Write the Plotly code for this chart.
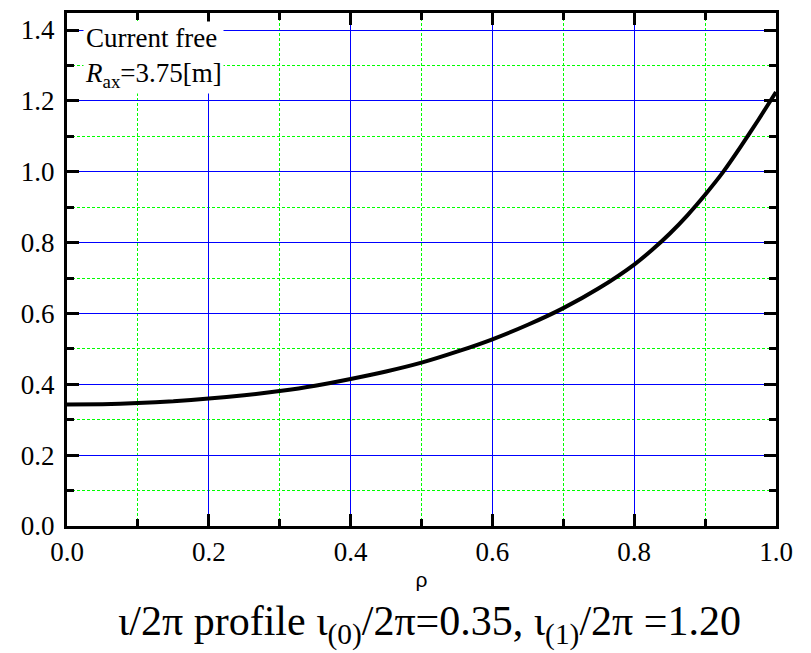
import plotly.graph_objects as go

# Rotational transform profile iota/2pi versus normalized radius rho
rho = [0.000, 0.050, 0.100, 0.150, 0.200, 0.250, 0.300, 0.350, 0.400, 0.450, 0.500,
       0.550, 0.600, 0.650, 0.700, 0.750, 0.800, 0.825, 0.850, 0.875, 0.900,
       0.925, 0.950, 0.975, 1.000]
iota = [0.343, 0.344, 0.347, 0.352, 0.360, 0.369, 0.381, 0.396, 0.415, 0.436, 0.461,
        0.492, 0.527, 0.568, 0.615, 0.671, 0.738, 0.779, 0.825, 0.877, 0.935,
        0.998, 1.070, 1.146, 1.225]

x_ticks = [0.0, 0.2, 0.4, 0.6, 0.8, 1.0]
x_labels = ["0.0", "0.2", "0.4", "0.6", "0.8", "1.0"]
x_minor = [0.1, 0.3, 0.5, 0.7, 0.9]
y_ticks = [0.0, 0.2, 0.4, 0.6, 0.8, 1.0, 1.2, 1.4]
y_labels = ["0.0", "0.2", "0.4", "0.6", "0.8", "1.0", "1.2", "1.4"]
y_minor = [0.1, 0.3, 0.5, 0.7, 0.9, 1.1, 1.3]

serif = "'Times New Roman', 'Liberation Serif', 'DejaVu Serif', serif"

fig = go.Figure()
fig.add_trace(go.Scatter(x=rho, y=iota, mode="lines",
                         line=dict(color="black", width=4, shape="spline", smoothing=0.6),
                         showlegend=False))


def axis_style(minor_vals):
    return dict(
        showline=True, linecolor="black", linewidth=3, mirror="allticks",
        ticks="inside", ticklen=12, tickwidth=3, tickcolor="black",
        showgrid=True, gridcolor="#0000ff", gridwidth=1.4,
        zeroline=False,
        tickfont=dict(family=serif, size=27, color="black"),
        minor=dict(tickmode="array", tickvals=minor_vals,
                   ticks="inside", ticklen=7, tickwidth=3, tickcolor="black",
                   showgrid=True, gridcolor="#00ff00", griddash="3px,2px", gridwidth=1.4),
    )


fig.update_xaxes(range=[0, 1.0], tickmode="array", tickvals=x_ticks, ticktext=x_labels,
                 title=dict(text="ρ", font=dict(family="Liberation Sans, Arial, sans-serif",
                                                size=21, color="black"),
                            standoff=6),
                 **axis_style(x_minor))
fig.update_yaxes(range=[0, 1.448], tickmode="array", tickvals=y_ticks, ticktext=y_labels,
                 ticklabelstandoff=4,
                 **axis_style(y_minor))

fig.add_annotation(
    xref="paper", yref="paper", x=0.022, y=0.985, xanchor="left", yanchor="top",
    align="left", showarrow=False, bgcolor="white", borderpad=1,
    text="Current free<br><i>R</i><sub>ax</sub>=3.75[m]",
    font=dict(family=serif, size=27, color="black"),
)

fig.add_annotation(
    xref="paper", yref="paper", x=0.511, y=-0.136, xanchor="center", yanchor="top",
    showarrow=False,
    text="ι/2π profile ι<sub>(0)</sub>/2π=0.35, ι<sub>(1)</sub>/2π =1.20",
    font=dict(family=serif, size=42, color="black"),
)

fig.update_layout(
    width=811, height=653,
    margin=dict(l=67, r=35, t=10, b=127),
    plot_bgcolor="white", paper_bgcolor="white",
    font=dict(family=serif),
)

fig.write_html("out.html")
